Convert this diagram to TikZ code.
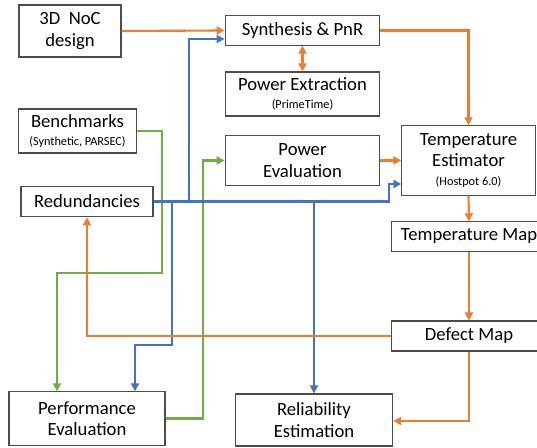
\documentclass[tikz,border=0pt]{standalone}
\usepackage{fontspec}
\setmainfont{Carlito}
\usetikzlibrary{arrows.meta}

\definecolor{flowor}{HTML}{ED7D31}
\definecolor{flowbl}{HTML}{4472C4}
\definecolor{flowgr}{HTML}{70AD47}

\tikzset{
  blk/.style={draw=black!70, line width=0.8pt, fill=white, inner sep=0pt, align=center, font=\fontsize{14}{16}\selectfont},
  orline/.style={draw=flowor, line width=1.6pt, -{Triangle[length=6pt,width=6pt]}},
  blline/.style={draw=flowbl, line width=1.6pt, -{Triangle[length=6pt,width=6pt]}},
  grline/.style={draw=flowgr, line width=1.6pt, -{Triangle[length=6pt,width=6pt]}},
}
\newcommand{\subtxt}[1]{\\[-2pt]{\fontsize{9.2}{10}\selectfont #1}}

\begin{document}
\begin{tikzpicture}[x=0.75pt,y=-0.75pt]
            \useasboundingbox (0,0) rectangle (537,448);
            % blocks
            \node[blk, minimum width=76.5pt, minimum height=39pt] (noc) at (70,31) {3D\ \ NoC\\design};
            \node[blk, minimum width=116pt, minimum height=22pt] (syn) at (302.5,30.5) {Synthesis \& PnR};
            \node[blk, minimum width=116pt, minimum height=33pt] (pext) at (302.5,94) {Power Extraction\subtxt{(PrimeTime)}};
            \node[blk, minimum width=116pt, minimum height=38pt] (peval) at (302.5,160.5) {Power\\Evaluation};
            \node[blk, minimum width=88pt, minimum height=33pt] (bench) at (77.5,131) {Benchmarks\subtxt{(Synthetic, PARSEC)}};
            \node[blk, minimum width=99pt, minimum height=23pt] (red) at (87,201.5) {Redundancies};
            \node[blk, minimum width=100pt, minimum height=52pt] (test) at (468.5,160.5) {Temperature\\Estimator\subtxt{(Hostpot 6.0)}};
            \node[blk, minimum width=116pt, minimum height=22pt] (tmap) at (469,236.5) {Temperature Map};
            \node[blk, minimum width=116pt, minimum height=22.5pt] (dmap) at (469,336) {Defect Map};
            \node[blk, minimum width=117pt, minimum height=40pt] (perf) at (87,418.5) {Performance\\Evaluation};
            \node[blk, minimum width=118pt, minimum height=39pt] (rel) at (314,420) {Reliability\\Estimation};
            % green
            \draw[grline] (bench.east) -| (162,273) -| (perf.north -| 57,0);
            \draw[grline] (perf.east) -| (203,160.5) -- (peval.west);
            % blue
            \draw[blline] (red.east) -| (189,39) -- (syn.west |- 0,39);
            \draw[blline] (red.east) -- (389,201.5) |- (test.west |- 0,184);
            \draw[blline] (rel.north |- red.east) -- (rel.north);
            \draw[blline] (172,201.5) |- (135,345) -- (perf.north -| 135,0);
            % orange
            \draw[orline] (noc.east) -- (syn.west);
            \draw[orline, {Triangle[length=6pt,width=6pt]}-{Triangle[length=6pt,width=6pt]}] (syn.south) -- (pext.north);
            \draw[orline] (syn.east) -| (test.north);
            \draw[orline] (peval.east) -- (test.west);
            \draw[orline] (test.south) -- (tmap.north);
            \draw[orline] (tmap.south) -- (dmap.north);
            \draw[orline] (dmap.west) -| (red.south);
            \draw[orline] (dmap.south) |- (rel.east |- 0,421);
        \end{tikzpicture}
\end{document}
